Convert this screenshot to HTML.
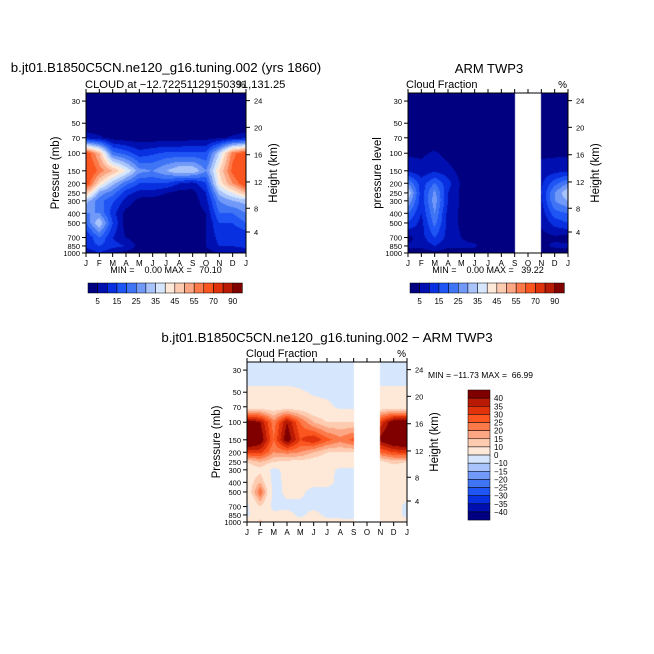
<!DOCTYPE html>
<html><head><meta charset="utf-8">
<style>
html,body{margin:0;padding:0;background:#fff;}
#wrap{position:relative;width:654px;height:654px;overflow:hidden;}
canvas,svg{position:absolute;left:0;top:0;}
text{font-family:"Liberation Sans",sans-serif;fill:#000;white-space:pre;}
</style></head>
<body>
<div id="wrap">
<canvas id="cv" width="654" height="654"></canvas>
<svg id="sv" width="654" height="654"></svg>
</div>
<script>
// ---- data ----
const months=['J','F','M','A','M','J','J','A','S','O','N','D','J'];
const plevs=[30,50,70,100,150,200,250,300,400,500,700,850,1000];
const heightTicks=[24,20,16,12,8,4];
const heightTickPres=[29.7,55,103.5,194,356,616];
const levels1=[5,10,15,20,25,30,35,40,45,50,55,60,70,80,90];
const levels3=[-40,-35,-30,-25,-20,-15,-10,0,10,15,20,25,30,35,40];
const cbLabels1=['5','15','25','35','45','55','70','90'];
const cbLabels3=['40','35','30','25','20','15','10','0','\u221210','\u221215','\u221220','\u221225','\u221230','\u221235','\u221240'];
const palette=['#000080','#0010b0','#0830e0','#1f55f5','#3f74f5','#7199f8','#a9c4fb','#d6e7fd','#fee8d8','#fdcbb0','#fca683','#fc7a4a','#fb5520','#e0330b','#b81a03','#800000'];
// Model (rows = plevs, cols = months)
const model=[
[0,0,0,0,0,0,0,0,0,0,0,0,0],
[0,0,0,0,0,0,0,0,0,0,0,0,0],
[8,6,3,2,2,2,2,2,3,3,4,6,8],
[65,50,22,18,12,14,16,16,16,16,35,58,65],
[70,58,50,40,27,25,30,35,35,25,45,62,70],
[66,45,32,22,15,15,15,10,8,15,42,55,66],
[50,28,22,12,8,8,5,3,3,10,32,40,50],
[32,22,16,8,3,2,2,2,2,8,25,30,32],
[25,25,12,3,2,2,2,2,2,5,20,20,25],
[20,35,15,2,2,2,2,2,2,5,15,15,20],
[10,20,10,5,2,2,2,2,2,5,12,10,10],
[12,15,12,10,3,2,2,2,2,5,10,10,12],
[5,10,5,3,2,2,2,2,2,3,5,5,5]];
// ARM TWP3 observations (null = missing)
const obs=[
[0,0,0,0,0,0,0,0,0,null,0,0,0],
[0,0,0,0,0,0,0,0,0,null,0,0,0],
[0,0,0,0,0,0,0,0,0,null,0,0,0],
[4,4,6,3,0,0,0,0,0,null,4,4,4],
[9,7,9,7,3,0,0,0,0,null,7,8,9],
[25,12,20,12,4,0,0,0,0,null,9,18,25],
[35,12,27,10,4,0,0,0,0,null,10,25,35],
[30,12,28,10,4,0,0,0,0,null,9,25,30],
[20,10,25,8,4,0,0,0,0,null,7,18,20],
[15,8,22,8,4,0,0,0,0,null,6,12,15],
[3,8,15,8,5,3,0,0,0,null,3,4,3],
[6,6,10,6,6,6,2,0,0,null,4,6,6],
[2,2,3,2,2,2,1,0,0,null,2,2,2]];
// Difference model - ARM
const diff=[
[-5,-5,-5,-5,-5,-5,-5,-5,-5,null,-5,-5,-5],
[2,2,2,2,1,-1,-2,-3,-3,null,2,2,2],
[5,5,5,5,5,3,2,-2,-2,null,5,5,5],
[45,40,22,40,25,15,10,10,10,null,32,45,45],
[52,45,25,45,30,35,27,22,27,null,42,50,52],
[32,32,20,22,20,15,10,10,10,null,25,30,32],
[10,15,10,8,8,6,5,5,5,null,8,12,10],
[5,8,-3,3,3,3,3,-2,-2,null,4,5,5],
[5,15,-3,2,2,3,3,-3,-3,null,3,4,5],
[3,25,-3,2,2,-3,-3,-3,-3,null,3,3,3],
[-2,10,-3,-2,-2,-2,-3,-3,-3,null,2,3,-2],
[-2,8,3,3,-2,3,-2,-3,-3,null,2,3,-2],
[3,12,3,3,3,3,3,3,2,null,3,3,3]];

const NS='http://www.w3.org/2000/svg';
const sv=document.getElementById('sv');
const ctx=document.getElementById('cv').getContext('2d');
const pTop=24.9, W=160, H=160;
function mk(tag,attrs,parent){const e=document.createElementNS(NS,tag);for(const k in attrs)e.setAttribute(k,attrs[k]);(parent||sv).appendChild(e);return e;}
function yOf(p,y0){return y0+(Math.log10(p)-Math.log10(pTop))/(3-Math.log10(pTop))*H;}
function xOf(i,x0){return x0+i*W/12;}
function bin(v,lv){let k=0;while(k<lv.length&&v>=lv[k])k++;return k;}
function hexRGB(h){return [parseInt(h.substr(1,2),16),parseInt(h.substr(3,2),16),parseInt(h.substr(5,2),16)];}
const palRGB=palette.map(hexRGB);
const lp=plevs.map(p=>Math.log10(p));

function fill(x0,y0,data,lv){
  const img=ctx.createImageData(W,H);
  for(let py=0;py<H;py++){
    const l=Math.log10(pTop)+(py+0.5)/H*(3-Math.log10(pTop));
    let r=0;while(r<lp.length-2&&l>lp[r+1])r++;
    let t=(l-lp[r])/(lp[r+1]-lp[r]);t=Math.max(0,Math.min(1,t));
    for(let px=0;px<W;px++){
      const m=(px+0.5)/W*12;let c=Math.min(11,Math.floor(m));const s=m-c;
      const a=data[r][c],b=data[r][c+1],d=data[r+1][c],e=data[r+1][c+1];
      let col=[255,255,255];
      if(a!==null&&b!==null&&d!==null&&e!==null){
        const v=(a*(1-s)+b*s)*(1-t)+(d*(1-s)+e*s)*t;
        col=palRGB[bin(v,lv)];
      }
      const o=(py*W+px)*4;img.data[o]=col[0];img.data[o+1]=col[1];img.data[o+2]=col[2];img.data[o+3]=255;
    }
  }
  ctx.putImageData(img,x0,y0);
}

function axes(x0,y0,name,ylab){
  const g=mk('g',{});
  
  
  mk('rect',{x:x0,y:y0,width:W,height:H,fill:'none',stroke:'#000','stroke-width':1},g);
  months.forEach((mo,i)=>{
    const x=xOf(i,x0);
    mk('line',{x1:x,y1:y0+H,x2:x,y2:y0+H+4,stroke:'#000'},g);
    mk('line',{x1:x,y1:y0,x2:x,y2:y0-4,stroke:'#000'},g);
    const t=mk('text',{x:x,y:y0+H+13,'font-size':8,'text-anchor':'middle'},g);t.textContent=mo;
  });
  plevs.forEach(p=>{
    const y=yOf(p,y0);
    mk('line',{x1:x0,y1:y,x2:x0-4,y2:y,stroke:'#000'},g);
    const t=mk('text',{x:x0-6,y:y+3,'font-size':7.5,'text-anchor':'end'},g);t.textContent=p;
  });
  heightTicks.forEach((h,i)=>{
    const y=yOf(heightTickPres[i],y0);
    mk('line',{x1:x0+W,y1:y,x2:x0+W+4,y2:y,stroke:'#000'},g);
    const t=mk('text',{x:x0+W+8,y:y+3,'font-size':7.5},g);t.textContent=h;
  });
  let t=mk('text',{x:0,y:0,'font-size':11.5,'text-anchor':'middle',transform:`translate(${x0-27},${y0+80}) rotate(-90)`},g);t.textContent=ylab;
  t=mk('text',{x:0,y:0,'font-size':11.5,'text-anchor':'middle',transform:`translate(${x0+W+31},${y0+80}) rotate(-90)`},g);t.textContent='Height (km)';
  t=mk('text',{x:x0+W-1,y:y0-5,'font-size':10,'text-anchor':'end'},g);t.textContent='%';
}

function txt(x,y,s,size,anchor,name){
  const t=mk('text',{x:x,y:y,'font-size':size,'text-anchor':anchor||'start'});
  t.textContent=s;
  
  
  return t;
}

// Panel 1
fill(86,93,model,levels1);
axes(86,93,'model-panel','Pressure (mb)');
txt(166,72,'b.jt01.B1850C5CN.ne120_g16.tuning.002 (yrs 1860)',13.3,'middle','model-title');
txt(85,88,'CLOUD at \u221212.72251129150391,131.25',11.2,'start','model-subtitle');
txt(166,273,'MIN =    0.00 MAX =   70.10',9,'middle','model-minmax');
// Panel 2
fill(408,93,obs,levels1);
axes(408,93,'obs-panel','pressure level');
txt(489,73,'ARM TWP3',13,'middle','obs-title');
txt(406,88,'Cloud Fraction',11,'start','obs-subtitle');
txt(488,273,'MIN =    0.00 MAX =   39.22',9,'middle','obs-minmax');
// Panel 3
fill(247,362,diff,levels3);
axes(247,362,'diff-panel','Pressure (mb)');
txt(327,342,'b.jt01.B1850C5CN.ne120_g16.tuning.002 \u2212 ARM TWP3',13.3,'middle','diff-title');
txt(246,357,'Cloud Fraction',11,'start','diff-subtitle');
txt(428,378,'MIN = \u221211.73 MAX =  66.99',8.5,'start','diff-minmax');

// Horizontal colorbars
function hbar(x0,y0,name){
  const g=mk('g',{});
  
  
  const bw=9.65;
  palette.forEach((c,i)=>{mk('rect',{x:x0+i*bw,y:y0,width:bw,height:10,fill:c,stroke:'#000','stroke-width':0.5},g);});
  cbLabels1.forEach((s,i)=>{const t=mk('text',{x:x0+(2*i+1)*bw,y:y0+21,'font-size':8,'text-anchor':'middle'},g);t.textContent=s;});
}
hbar(88,283,'model-colorbar');
hbar(410,283,'obs-colorbar');
// Vertical colorbar
(function(){
  const g=mk('g',{});
  
  
  const x0=468,y0=390,bh=8.13;
  for(let i=0;i<16;i++){
    mk('rect',{x:x0,y:y0+i*bh,width:22,height:bh,fill:palette[15-i],stroke:'#000','stroke-width':0.5},g);
  }
  cbLabels3.forEach((s,i)=>{const t=mk('text',{x:x0+26,y:y0+(i+1)*bh+3,'font-size':8},g);t.textContent=s;});
})();
</script>
</body></html>
